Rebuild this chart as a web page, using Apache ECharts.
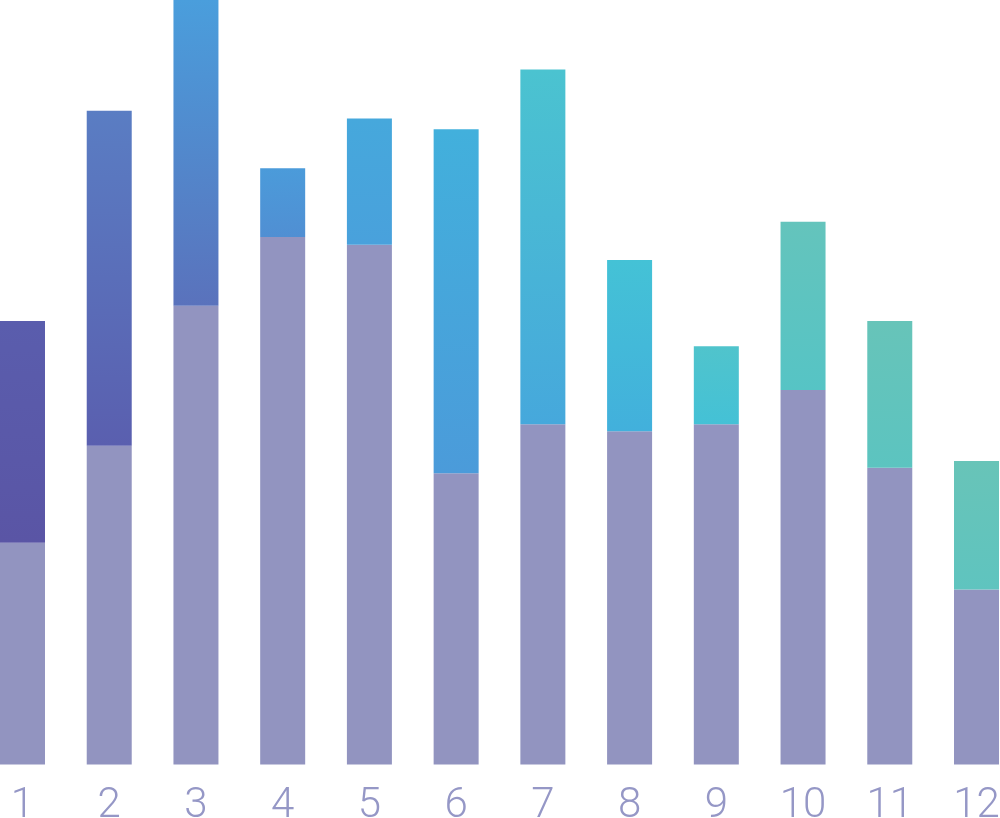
<!DOCTYPE html>
<html>
<head>
<meta charset="utf-8">
<script src="https://cdn.jsdelivr.net/npm/echarts@6/dist/echarts.min.js"></script>
<style>
  html, body { margin: 0; padding: 0; background: #ffffff; }
  #chart { width: 1000px; height: 818px; }
</style>
</head>
<body>
<div id="chart"></div>
<script>
// ---- data ----
var categories = ['1', '2', '3', '4', '5', '6', '7', '8', '9', '10', '11', '12'];
var lowerValues = [29.0, 41.7, 60.0, 69.0, 68.0, 38.1, 44.5, 43.6, 44.5, 49.0, 38.8, 22.9];
var upperValues = [29.0, 43.8, 40.0, 9.0, 16.5, 45.0, 46.4, 22.4, 10.2, 22.0, 19.2, 16.8];

// ---- styles ----
var lowerColor = '#9294c0';
var labelColor = '#9597c6';
// colour ramp used for the upper segments (position -> colour)
var ramp = [
  [1.5, '#5a55a5'], [3.0, '#5a5eae'], [5.0, '#5a72bc'], [5.3, '#5a7ec4'],
  [6.5, '#5090d4'], [7.0, '#4a9edc'], [8.2, '#46a8dc'], [9.2, '#42b0dc'],
  [10.3, '#44c2d6'], [10.7, '#50c4cc'], [11.5, '#56c4c4'], [12.5, '#64c4bc'],
  [13.0, '#68c4b8']
];

function hexToRgb(h) {
  return [parseInt(h.substr(1, 2), 16), parseInt(h.substr(3, 2), 16), parseInt(h.substr(5, 2), 16)];
}
function rampColor(t) {
  if (t <= ramp[0][0]) return ramp[0][1];
  for (var k = 1; k < ramp.length; k++) {
    if (t <= ramp[k][0]) {
      var a = ramp[k - 1], b = ramp[k];
      var f = (t - a[0]) / (b[0] - a[0]);
      var ca = hexToRgb(a[1]), cb = hexToRgb(b[1]);
      var c = ca.map(function (v, j) { return Math.round(v + (cb[j] - v) * f); });
      return 'rgb(' + c.join(',') + ')';
    }
  }
  return ramp[ramp.length - 1][1];
}

var upperData = upperValues.map(function (v, i) {
  var bottom = lowerValues[i];
  var top = lowerValues[i] + v;
  return {
    value: v,
    itemStyle: {
      color: new echarts.graphic.LinearGradient(0, 0, 0, 1, [
        { offset: 0, color: rampColor(i + top / 20) },
        { offset: 1, color: rampColor(i + bottom / 20) }
      ])
    }
  };
});

var chart = echarts.init(document.getElementById('chart'), null, { renderer: 'canvas' });
chart.setOption({
  animation: false,
  backgroundColor: '#ffffff',
  grid: {
    left: 22.5, right: 23.5, top: 0, bottom: 53.5,
    containLabel: false,
    outerBoundsMode: 'none'
  },
  xAxis: {
    type: 'category',
    data: categories,
    boundaryGap: false,
    axisLine: { show: false },
    axisTick: { show: false },
    splitLine: { show: false },
    axisLabel: {
      color: labelColor,
      fontFamily: 'Roboto',
      fontWeight: 300,
      fontSize: 42,
      margin: 21,
      interval: 0
    }
  },
  yAxis: {
    type: 'value',
    min: 0,
    max: 100,
    show: false
  },
  series: [
    {
      type: 'bar',
      stack: 'total',
      barWidth: 45,
      data: lowerValues,
      itemStyle: { color: lowerColor }
    },
    {
      type: 'bar',
      stack: 'total',
      barWidth: 45,
      data: upperData
    }
  ]
});
</script>
</body>
</html>
